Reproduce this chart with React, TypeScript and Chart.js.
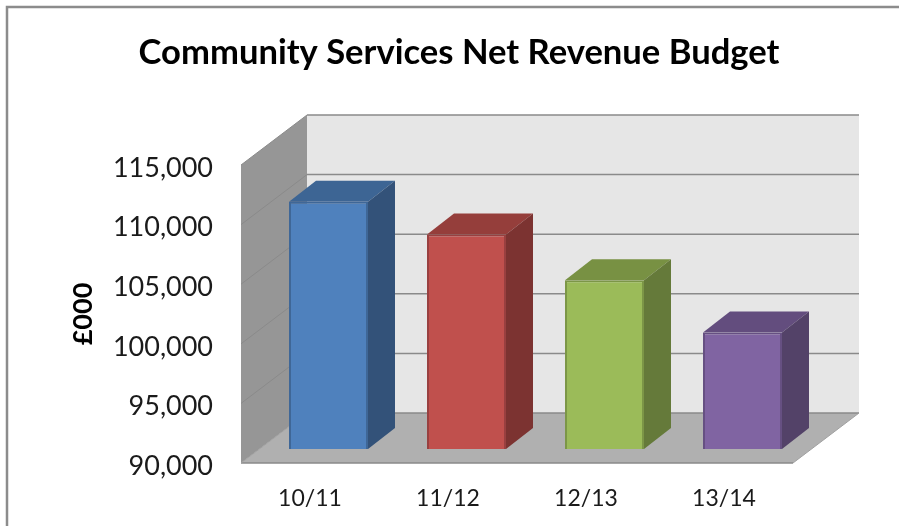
import React, { useEffect, useRef } from "react";
import { Chart, registerables } from "chart.js";

Chart.register(...registerables);

const categories = ["10/11", "11/12", "12/13", "13/14"];
const budget = [110750, 108000, 104150, 99780];
const frontColors = ["#4F81BD", "#C0504D", "#9BBB59", "#8064A2"];
const edgeColors = ["#3F6797", "#994040", "#7C9647", "#665082"];
const topColors = ["#3D6594", "#953E3B", "#789143", "#634D7E"];
const sideColors = ["#335279", "#7C3331", "#657A3A", "#534268"];

const CANVAS_W = 918;
const CANVAS_H = 545;
const FONT = "Lato, sans-serif";
const AXIS_MIN = 90000;
const AXIS_MAX = 115000;

// Projection of the box: full depth of the plot, the gap before the bars, and the bar depth.
const WALL = { dx: 66, dy: -50 };
const BAR_GAP = { dx: 18.5, dy: -14 };
const BAR_DEPTH = { dx: 27, dy: -21 };

function poly(ctx: CanvasRenderingContext2D, pts: number[][], fill: string) {
  ctx.beginPath();
  pts.forEach(([x, y], i) => (i ? ctx.lineTo(x, y) : ctx.moveTo(x, y)));
  ctx.closePath();
  ctx.fillStyle = fill;
  ctx.fill();
}

const box3d = {
  id: "box3d",
  beforeDraw(chart: any) {
    const { ctx } = chart;
    // Chart frame, running off the right and bottom of the page.
    ctx.save();
    ctx.strokeStyle = "#8C8C8C";
    ctx.lineWidth = 2.5;
    ctx.strokeRect(7, 7, CANVAS_W, CANVAS_H);
    ctx.restore();
  },
  beforeDatasetsDraw(chart: any) {
    const { ctx, chartArea: a, scales } = chart;
    const y = scales.y;
    const { dx, dy } = WALL;
    ctx.save();

    poly(ctx, [[a.left + dx, a.top + dy], [a.right + dx, a.top + dy], [a.right + dx, a.bottom + dy], [a.left + dx, a.bottom + dy]], "#E6E6E6");
    poly(ctx, [[a.left, a.top], [a.left + dx, a.top + dy], [a.left + dx, a.bottom + dy], [a.left, a.bottom]], "#969696");
    poly(ctx, [[a.left, a.bottom], [a.right, a.bottom], [a.right + dx, a.bottom + dy], [a.left + dx, a.bottom + dy]], "#B0B0B0");

    y.ticks.forEach((t: any) => {
      const py = y.getPixelForValue(t.value);
      ctx.strokeStyle = "#8A8A8A";
      ctx.lineWidth = 1;
      if (t.value !== y.min) {
        ctx.beginPath();
        ctx.moveTo(a.left, py);
        ctx.lineTo(a.left + dx, py + dy);
        ctx.stroke();
      }
      ctx.lineWidth = 1.5;
      ctx.beginPath();
      ctx.moveTo(a.left + dx, py + dy);
      ctx.lineTo(a.right + dx, py + dy);
      ctx.stroke();
    });

    // Front and right edges of the floor.
    ctx.strokeStyle = "#8A8A8A";
    ctx.lineWidth = 1.5;
    ctx.beginPath();
    ctx.moveTo(a.left, a.bottom);
    ctx.lineTo(a.right, a.bottom);
    ctx.stroke();
    ctx.strokeStyle = "#A0A0A0";
    ctx.lineWidth = 1;
    ctx.beginPath();
    ctx.moveTo(a.left, a.bottom);
    ctx.lineTo(a.left + dx, a.bottom + dy);
    ctx.moveTo(a.right, a.bottom);
    ctx.lineTo(a.right + dx, a.bottom + dy);
    ctx.stroke();

    // Top and side faces of each bar, taken from the bar element's own geometry.
    ctx.translate(BAR_GAP.dx, BAR_GAP.dy);
    const bx = BAR_DEPTH.dx;
    const by = BAR_DEPTH.dy;
    chart.getDatasetMeta(0).data.forEach((el: any, i: number) => {
      const l = el.x - el.width / 2;
      const r = el.x + el.width / 2;
      poly(ctx, [[l, el.y], [l + bx, el.y + by], [r + bx, el.y + by], [r, el.y]], topColors[i]);
      poly(ctx, [[r, el.y], [r + bx, el.y + by], [r + bx, el.base + by], [r, el.base]], sideColors[i]);
    });
    // The translation stays in place for the bars themselves and ends in afterDatasetsDraw.
  },
  afterDatasetsDraw(chart: any) {
    chart.ctx.restore();
  },
};

export default function App() {
  const ref = useRef<HTMLCanvasElement>(null);

  useEffect(() => {
    const chart = new Chart(ref.current!, {
      type: "bar",
      data: {
        labels: categories,
        datasets: [
          {
            data: budget,
            base: AXIS_MIN,
            backgroundColor: frontColors,
            borderColor: edgeColors,
            borderWidth: 2,
            barPercentage: 79 / 138,
            categoryPercentage: 1,
            clip: false,
          } as any,
        ],
      },
      options: {
        responsive: false,
        animation: false,
        devicePixelRatio: 1,
        layout: { padding: 0 },
        plugins: {
          legend: { display: false },
          tooltip: { enabled: false },
          title: {
            display: true,
            text: "Community Services Net Revenue Budget",
            color: "#000000",
            font: { family: FONT, size: 34.6, weight: "bold", lineHeight: 1.2 },
            padding: { top: 32, bottom: 91.48 },
          },
        },
        scales: {
          x: {
            grid: { display: false },
            border: { display: false },
            ticks: { color: "#1A1A1A", font: { family: FONT, size: 23 }, padding: 14, maxRotation: 0 },
            afterFit(s: any) {
              s.height = CANVAS_H - 463;
            },
          },
          y: {
            min: AXIS_MIN,
            max: AXIS_MAX,
            grid: { display: false },
            border: { display: false },
            ticks: {
              stepSize: 5000,
              color: "#1A1A1A",
              font: { family: FONT, size: 27 },
              padding: 20,
              labelOffset: 3,
              callback: (v: any) => Number(v).toLocaleString("en-GB"),
            },
            title: {
              display: true,
              text: "£000",
              color: "#000000",
              font: { family: FONT, size: 27, weight: "bold", lineHeight: 1.2 },
              padding: { top: 67, bottom: 0 },
            },
            afterFit(s: any) {
              s.width = 241;
            },
          },
          // Empty axis that reserves the margin to the right of the plot.
          margin: {
            position: "right",
            display: true,
            grid: { display: false },
            border: { display: false },
            ticks: { display: false },
            afterFit(s: any) {
              s.width = CANVAS_W - 793;
            },
          },
        },
      } as any,
      plugins: [box3d],
    });
    return () => chart.destroy();
  }, []);

  return (
    <div style={{ position: "fixed", left: 0, top: 0, width: 899, height: 526, overflow: "hidden", background: "#fff" }}>
      <canvas ref={ref} width={CANVAS_W} height={CANVAS_H} style={{ display: "block" }} />
    </div>
  );
}
